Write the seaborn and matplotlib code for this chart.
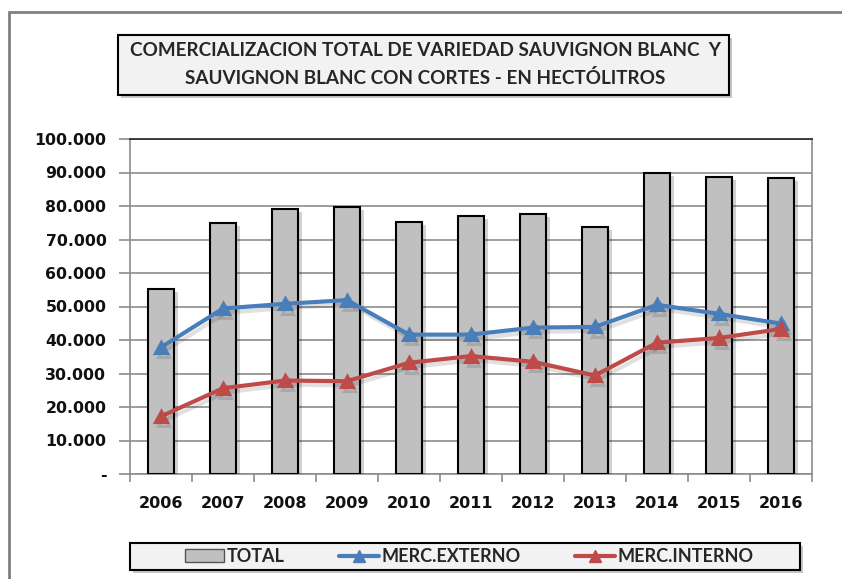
import matplotlib
matplotlib.use("Agg")
import matplotlib.pyplot as plt
import matplotlib.patheffects as pe
from matplotlib.patches import Rectangle, Patch
from matplotlib.lines import Line2D
from matplotlib.ticker import FuncFormatter, MultipleLocator
import pandas as pd
import seaborn as sns

years = ["2006", "2007", "2008", "2009", "2010", "2011",
         "2012", "2013", "2014", "2015", "2016"]
total = [55200, 74800, 79100, 79700, 75100, 77000,
         77500, 73600, 89900, 88600, 88300]
merc_externo = [37800, 49400, 50800, 51900, 41600, 41600,
                43700, 43900, 50500, 47800, 44900]
merc_interno = [17200, 25600, 27900, 27700, 33200, 35200,
                33500, 29400, 39200, 40600, 43300]

title_lines = ["COMERCIALIZACION TOTAL DE VARIEDAD SAUVIGNON BLANC  Y",
               "SAUVIGNON BLANC CON CORTES - EN HECTÓLITROS"]

df = pd.DataFrame({"year": years, "TOTAL": total,
                   "MERC.EXTERNO": merc_externo, "MERC.INTERNO": merc_interno})

sns.set_theme(style="white")
plt.rcParams["font.family"] = ["DejaVu Sans"]

W, H = 842, 579
fig = plt.figure(figsize=(W / 100, H / 100), dpi=100)
ax = fig.add_axes([130 / W, 1 - 474 / H, 682 / W, 335 / H])

blue = "#4a7ebb"
red = "#be4b48"
grid_gray = "#8c8c8c"
bar_shadow = [pe.SimplePatchShadow(offset=(3, -2), shadow_rgbFace="black", alpha=0.18), pe.Normal()]
line_shadow = [pe.SimpleLineShadow(offset=(2, -3), shadow_color="black", alpha=0.12), pe.Normal()]

sns.barplot(data=df, x="year", y="TOTAL", ax=ax, color="#c0c0c0",
            width=0.41, edgecolor="black", linewidth=1.5, saturation=1, zorder=3)
for bar in ax.patches:
    bar.set_path_effects(bar_shadow)

for col, c in [("MERC.EXTERNO", blue), ("MERC.INTERNO", red)]:
    sns.pointplot(data=df, x="year", y=col, ax=ax, color=c, markers="^",
                  linewidth=3, markersize=8, zorder=5)
for line in ax.lines:
    line.set_path_effects(line_shadow)

ax.set_ylim(0, 100000)
ax.set_xlim(-0.5, len(years) - 0.5)
ax.yaxis.set_major_locator(MultipleLocator(10000))
ax.yaxis.set_major_formatter(FuncFormatter(
    lambda v, p: "-" if v == 0 else f"{int(v):,}".replace(",", ".")))
ax.grid(axis="y", color=grid_gray, linewidth=1.2, zorder=0)
ax.set_axisbelow(True)
ax.set_xlabel("")
ax.set_ylabel("")
for s in ["left", "bottom", "right"]:
    ax.spines[s].set_color(grid_gray)
    ax.spines[s].set_linewidth(1.2)
ax.spines["top"].set_color("#222222")
ax.spines["top"].set_linewidth(1.2)

ax.set_xticks([i - 0.5 for i in range(len(years) + 1)], minor=False)
ax.set_xticklabels([""] * (len(years) + 1))
ax.set_xticks(range(len(years)), minor=True)
ax.set_xticklabels(years, minor=True)
ax.tick_params(axis="x", which="major", direction="out", length=6,
               color=grid_gray, width=1.2, bottom=True)
ax.tick_params(axis="x", which="minor", length=0, pad=16, labelsize=11.5)
ax.tick_params(axis="y", direction="out", length=8, color=grid_gray,
               width=1.2, left=True, labelsize=11.3, pad=9)
for lab in ax.get_xticklabels(minor=True) + ax.get_yticklabels():
    lab.set_fontweight("bold")
    lab.set_color("#111111")

# outer chart frame (top and left edges only visible)
fig.add_artist(Line2D([9 / W, 1], [1 - 12 / H, 1 - 12 / H], color="#808080",
                      linewidth=2, transform=fig.transFigure))
fig.add_artist(Line2D([9 / W, 9 / W], [0, 1 - 12 / H], color="#808080",
                      linewidth=2, transform=fig.transFigure))


def framed_box(x0, y0, x1, y1):
    fig.add_artist(Rectangle((x0 / W + 0.004, 1 - y1 / H - 0.006), (x1 - x0) / W, (y1 - y0) / H,
                             transform=fig.transFigure, facecolor="black", alpha=0.22,
                             edgecolor="none"))
    fig.add_artist(Rectangle((x0 / W, 1 - y1 / H), (x1 - x0) / W, (y1 - y0) / H,
                             transform=fig.transFigure, facecolor="#f2f2f2",
                             edgecolor="black", linewidth=1.5))


# title box
tx0, ty0, tx1, ty1 = 118, 35, 729, 95
framed_box(tx0, ty0, tx1, ty1)
fig.text((tx0 + tx1) / 2 / W + 0.002, 1 - 50 / H, title_lines[0], ha="center", va="center",
         fontsize=13.6, fontweight="bold", family=["Lato", "DejaVu Sans"])
fig.text((tx0 + tx1) / 2 / W + 0.002, 1 - 78 / H, title_lines[1], ha="center", va="center",
         fontsize=13.6, fontweight="bold", family=["Lato", "DejaVu Sans"])

# legend box
framed_box(130, 543, 800, 570)
handles = [
    Patch(facecolor="#c0c0c0", edgecolor="#555555", linewidth=1),
    Line2D([], [], color=blue, linewidth=3, marker="^", markersize=8),
    Line2D([], [], color=red, linewidth=3, marker="^", markersize=8),
]
leg = fig.legend(handles, ["TOTAL", "MERC.EXTERNO", "MERC.INTERNO"],
                 loc="center", bbox_to_anchor=(469 / W, 1 - 556.5 / H), ncol=3,
                 frameon=False, columnspacing=3.0,
                 handlelength=2.2, handletextpad=0.15, borderpad=0.3,
                 prop={"family": ["Lato", "DejaVu Sans"], "weight": "bold", "size": 13})

fig.savefig("out.png", dpi=100)
